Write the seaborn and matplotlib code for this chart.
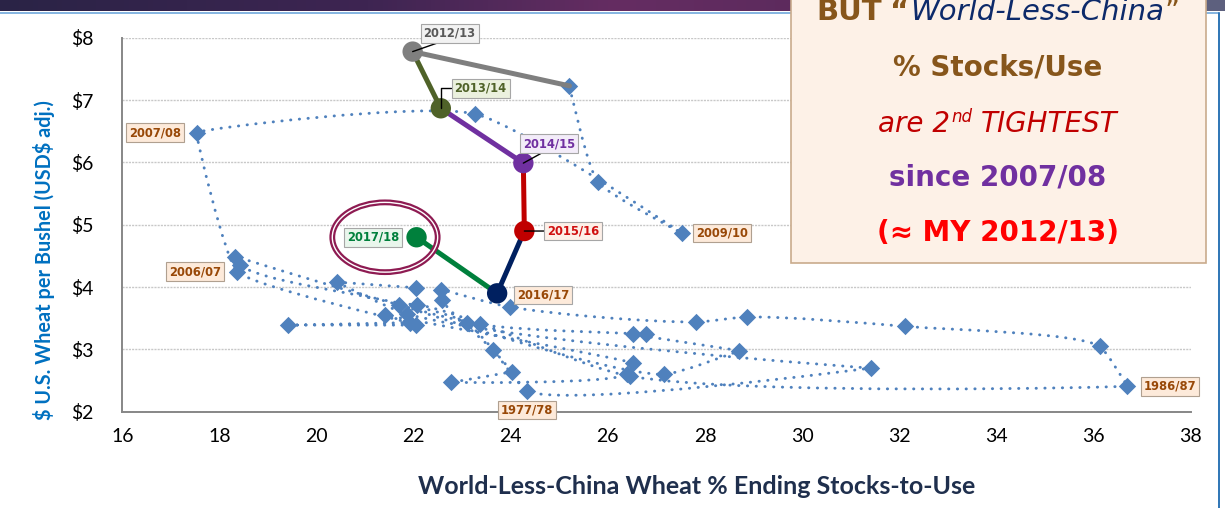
import numpy as np
import pandas as pd
import matplotlib
matplotlib.use("Agg")
import matplotlib.pyplot as plt
import seaborn as sns
from matplotlib.path import Path
from matplotlib.patches import PathPatch, Ellipse, Rectangle
from matplotlib.colors import LinearSegmentedColormap
from matplotlib.lines import Line2D

# ---------------------------------------------------------------- data
# Historical marketing years 1973/74 .. 2011/12
seasons = [f"{y}/{(y + 1) % 100:02d}" for y in range(1973, 2012)]
stocks_to_use = [22.04, 20.42, 21.86, 31.41, 24.34, 23.63, 22.59, 22.56, 23.98, 27.82,
                 28.86, 32.12, 36.13, 36.70, 26.46, 22.07, 21.69, 27.15, 28.71, 26.52,
                 26.79, 23.37, 18.33, 18.43, 23.10, 24.02, 22.77, 26.40, 26.52, 21.42,
                 22.05, 19.42, 21.92, 18.36, 17.53, 23.26, 27.52, 25.79, 25.21]
price = [3.99, 4.08, 3.57, 2.70, 2.33, 2.99, 3.79, 3.96, 3.68, 3.44,
         3.52, 3.37, 3.05, 2.41, 2.57, 3.72, 3.72, 2.60, 2.98, 3.24,
         3.25, 3.40, 4.49, 4.35, 3.42, 2.64, 2.47, 2.60, 2.78, 3.55,
         3.39, 3.39, 3.43, 4.25, 6.48, 6.78, 4.87, 5.69, 7.23]

# Recent marketing years, highlighted
recent_seasons = ["2012/13", "2013/14", "2014/15", "2015/16", "2016/17", "2017/18"]
recent_stocks = [21.98, 22.56, 24.26, 24.28, 23.72, 22.06]
recent_price = [7.78, 6.87, 5.99, 4.90, 3.90, 4.80]
recent_colors = ["#7F7F7F", "#4F6228", "#7030A0", "#C00000", "#002060", "#00803C"]

x_ticks = [16, 18, 20, 22, 24, 26, 28, 30, 32, 34, 36, 38]
y_ticks = [2, 3, 4, 5, 6, 7, 8]
y_tick_labels = ["$2", "$3", "$4", "$5", "$6", "$7", "$8"]

# historical seasons that carry a label, with label offsets (points)
hist_labels = {"1977/78": (0, -13.5), "1986/87": (30.5, 0), "2006/07": (-30, 0),
               "2007/08": (-30, 0), "2009/10": (29, 0)}

# ---------------------------------------------------------------- style
sns.set_theme(style="white")
plt.rcParams["font.family"] = ["DejaVu Sans"]

W, H = 1225, 508
fx = lambda px: px / W
fy = lambda py: 1 - py / H

fig = plt.figure(figsize=(W / 100, H / 100), dpi=100)
fig.patch.set_facecolor("white")

# slide header band
band = fig.add_axes([0, fy(11), 1, 11 / H], zorder=-2)
band_cmap = LinearSegmentedColormap.from_list(
    "band", [(0, "#2A2346"), (0.3, "#3E2552"), (0.5, "#652D62"), (0.7, "#5A2A5C"), (1, "#48375C")])
band.imshow(np.linspace(0, 1, 256)[None, :], aspect="auto", cmap=band_cmap, extent=[0, 1, 0, 1])
band.set_axis_off()
fig.add_artist(Rectangle((fx(1203), fy(11)), fx(22), 11 / H, transform=fig.transFigure,
                         fc="#5D607E", ec="none", zorder=0.5))
fig.add_artist(Line2D([0, fx(1219)], [fy(12.5), fy(12.5)], transform=fig.transFigure,
                      color="#6FA8DC", lw=1.2, zorder=0.6))
fig.add_artist(Line2D([fx(1219), fx(1219)], [fy(12.5), 0], transform=fig.transFigure,
                      color="#2E75B6", lw=1.4, zorder=0.6))

ax = fig.add_axes([fx(122.3), fy(411.7), (1190.5 - 122.3) / W, (411.7 - 37.9) / H])
ax.set_facecolor("none")
ax.set_xlim(16, 38)
ax.set_ylim(2, 8)

# ---------------------------------------------------------------- historical path (smoothed, dotted)
pts = np.column_stack([stocks_to_use, price])
disp = ax.transData.transform(pts)
n = len(disp)
K = 0.25
seg = np.diff(disp, axis=0)
seg_len = np.hypot(seg[:, 0], seg[:, 1])
unit = seg / seg_len[:, None]

h_out = disp.copy()
h_in = disp.copy()
for i in range(1, n - 1):
    u_in, u_out = unit[i - 1], unit[i]
    d = u_in + u_out
    norm = np.hypot(*d)
    d = d / norm if norm > 1e-9 else u_out
    fac = ((1 + np.dot(u_in, u_out)) / 2) ** 3
    h_out[i] = disp[i] + d * seg_len[i] * K * fac
    h_in[i] = disp[i] - d * seg_len[i - 1] * K * fac

inv = ax.transData.inverted()
verts = [pts[0]]
codes = [Path.MOVETO]
for i in range(n - 1):
    verts += [inv.transform(h_out[i]), inv.transform(h_in[i + 1]), pts[i + 1]]
    codes += [Path.CURVE4] * 3
curve = PathPatch(Path(np.array(verts), codes), fill=False, ec="#4F81BD", lw=2.1,
                  ls=(0, (0.1, 2.9)), capstyle="round", zorder=2)
ax.add_patch(curve)

sns.scatterplot(x=stocks_to_use, y=price, marker="D", s=78, color="#4F81BD",
                linewidth=0, ax=ax, zorder=3, legend=False)

# ---------------------------------------------------------------- recent years
seg_rows = []
prev = (stocks_to_use[-1], price[-1])
for s, xv, yv in zip(recent_seasons, recent_stocks, recent_price):
    seg_rows += [{"season": s, "x": prev[0], "y": prev[1]},
                 {"season": s, "x": xv, "y": yv}]
    prev = (xv, yv)
seg_df = pd.DataFrame(seg_rows)
sns.lineplot(data=seg_df, x="x", y="y", hue="season", hue_order=recent_seasons,
             palette=recent_colors, units="season", estimator=None, sort=False,
             linewidth=3.6, legend=False, ax=ax, zorder=4)

sns.scatterplot(x=recent_stocks, y=recent_price, hue=recent_seasons, hue_order=recent_seasons,
                palette=recent_colors, s=215, linewidth=0, legend=False, ax=ax, zorder=5)

# circle round the newest year
cx, cy = recent_stocks[-1] - 0.65, recent_price[-1]
ax.add_patch(Ellipse((cx, cy), 2.17, 1.12, fill=False, ec="#8E1B52", lw=4.2, zorder=6))
ax.add_patch(Ellipse((cx, cy), 2.17, 1.12, fill=False, ec="white", lw=1.0, zorder=6.1))

# ---------------------------------------------------------------- labels
lab_font = dict(fontsize=8.3, fontweight="bold", family="DejaVu Sans")
for s, (dx, dy) in hist_labels.items():
    i = seasons.index(s)
    ax.annotate(s, (stocks_to_use[i], price[i]), xytext=(dx, dy), textcoords="offset points",
                ha="center", va="center", color="#984807", zorder=8,
                bbox=dict(boxstyle="square,pad=0.25", fc="#FDEADA", ec="#B0A090", lw=0.8),
                **lab_font)

recent_label_style = {
    "2012/13": dict(off=(26.6, 13.3), tc="#595959", fc="#F2F2F2", rel=(0.45, 0.0), cs="arc3"),
    "2013/14": dict(off=(28.7, 14.3), tc="#4F6228", fc="#EBF1DE", rel=(0.0, 0.5),
                    cs="angle,angleA=0,angleB=90,rad=0"),
    "2014/15": dict(off=(18.6, 13.9), tc="#7030A0", fc="#F3ECF9", rel=(0.45, 0.0), cs="arc3"),
    "2015/16": dict(off=(35.3, 0), tc="#D01010", fc="#FDF0E8", rel=(0.0, 0.5), cs="arc3"),
    "2016/17": dict(off=(33.0, -1.2), tc="#984807", fc="#FDEADA", rel=None, cs=None),
    "2017/18": dict(off=(-31.0, 0), tc="#00803C", fc="#E9F6EC", rel=None, cs=None),
}
for s, xv, yv in zip(recent_seasons, recent_stocks, recent_price):
    st = recent_label_style[s]
    arrow = None
    if st["rel"] is not None:
        arrow = dict(arrowstyle="-", color="black", lw=1.0, shrinkA=0, shrinkB=0,
                     relpos=st["rel"], connectionstyle=st["cs"])
    ax.annotate(s, (xv, yv), xytext=st["off"], textcoords="offset points",
                ha="center", va="center", color=st["tc"], zorder=8, arrowprops=arrow,
                bbox=dict(boxstyle="square,pad=0.25", fc=st["fc"], ec="#A6A6A6", lw=0.8),
                **lab_font)

# ---------------------------------------------------------------- axes cosmetics
tick_font = "Lato"
ax.set_xticks(x_ticks)
ax.set_xticklabels([str(t) for t in x_ticks], fontsize=14, family=tick_font, color="black")
ax.set_yticks(y_ticks)
ax.set_yticklabels(y_tick_labels, fontsize=14, family=tick_font, color="black")
ax.tick_params(axis="both", direction="out", length=6, width=1.3, color="#878787")
ax.tick_params(axis="y", pad=15)
ax.tick_params(axis="x", pad=6)
for side in ("top", "right"):
    ax.spines[side].set_visible(False)
for side in ("left", "bottom"):
    ax.spines[side].set_color("#878787")
    ax.spines[side].set_linewidth(1.4)
ax.yaxis.grid(True, color="#C8C8C8", lw=1.0, ls=(0, (1.5, 0.8)))
ax.xaxis.grid(False)
ax.set_axisbelow(True)
ax.set_xlabel("")
ax.set_ylabel("")

fig.text(fx(44), fy(260), "\\$ U.S. Wheat per Bushel (USD\\$ adj.)", rotation=90, ha="center",
         va="center", color="#0070C0", fontsize=14.3, fontweight="bold", family="Lato")
fig.text(fx(697), fy(487), "World-Less-China Wheat % Ending Stocks-to-Use", ha="center",
         va="center", color="#1F2F4D", fontsize=18, fontweight="bold", family="Lato")

# ---------------------------------------------------------------- call-out box
fig.add_artist(Rectangle((fx(791), fy(263)), fx(1206) - fx(791), fy(-10) - fy(263),
                         transform=fig.transFigure, fc="#FDF1E7", ec="#C9AB8C", lw=1.2, zorder=5))

BROWN, NAVY, RED, PURPLE, BRIGHT = "#87561B", "#0D2A6A", "#C00000", "#7030A0", "#FF0000"
CO_SIZE = 20


def place_line(parts, baseline_px, center_px=998):
    arts = []
    for p in parts:
        t = fig.text(0, fy(baseline_px - p.get("rise", 0)), p["s"], ha="left", va="baseline",
                     fontsize=p.get("size", CO_SIZE), color=p["color"],
                     fontweight=p.get("weight", "bold"), fontstyle=p.get("style", "normal"),
                     family="DejaVu Sans", zorder=7)
        arts.append((t, p.get("gap", 0)))
    renderer = fig.canvas.get_renderer()
    widths = [t.get_window_extent(renderer).width for t, _ in arts]
    total = sum(widths) + sum(g for _, g in arts)
    x = center_px - total / 2
    for (t, g), w in zip(arts, widths):
        x += g
        t.set_x(fx(x))
        x += w


place_line([dict(s="BUT", color=BROWN, size=21),
            dict(s="\u201c", color=BROWN, gap=8, size=21),
            dict(s="World-Less-China", color=NAVY, weight="normal", style="italic", gap=1, size=21),
            dict(s="\u201d", color=BROWN, weight="normal", gap=1, size=21)], 20)
place_line([dict(s="% Stocks/Use", color=BROWN)], 75)
place_line([dict(s="are 2", color=RED, weight="normal", style="italic"),
            dict(s="nd", color=RED, weight="normal", style="italic", size=12, rise=10, gap=1),
            dict(s="TIGHTEST", color=RED, weight="normal", style="italic", gap=9)], 131.7)
place_line([dict(s="since 2007/08", color=PURPLE)], 186)
place_line([dict(s="(\u2248 MY 2012/13)", color=BRIGHT)], 240.7)

fig.savefig("out.png", dpi=100)
